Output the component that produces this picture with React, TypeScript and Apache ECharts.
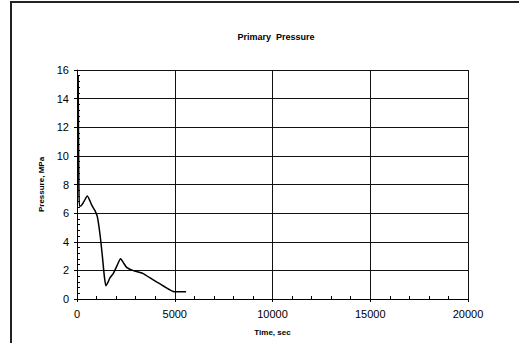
import React, { useEffect, useRef } from "react";
import * as echarts from "echarts";

const timeSec = [60, 75, 95, 125, 190, 350, 530, 750, 920, 1040, 1180, 1300, 1400, 1480, 1600, 1690, 1860, 2060, 2230, 2370, 2540, 2880, 3360, 3900, 4420, 4980, 5580];
const pressureMPa = [15.6, 12.0, 8.0, 6.5, 6.5, 6.8, 7.2, 6.57, 6.17, 5.75, 4.47, 2.96, 1.56, 0.93, 1.21, 1.49, 1.79, 2.37, 2.82, 2.54, 2.21, 1.98, 1.79, 1.33, 0.91, 0.51, 0.5];

const chartTitle = "Primary  Pressure";
const xTitle = "Time, sec";
const yTitle = "Pressure, MPa";

export default function App() {
  const ref = useRef<HTMLDivElement>(null);
  useEffect(() => {
    if (!ref.current) return;
    const chart = echarts.init(ref.current, null, { renderer: "svg" });
    const font = "Liberation Sans, Arial, sans-serif";
    chart.setOption({
      animation: false,
      backgroundColor: "#fff",
      title: {
        text: chartTitle,
        left: 271,
        top: 27,
        textAlign: "center",
        textStyle: { fontFamily: font, fontSize: 9, fontWeight: "bold", color: "#000" },
      },
      grid: { left: 77, top: 70, right: 51, bottom: 44 },
      xAxis: {
        type: "value",
        min: 0,
        max: 20000,
        interval: 5000,
        name: xTitle,
        nameLocation: "middle",
        nameGap: 29,
        nameTextStyle: { fontFamily: font, fontSize: 8, fontWeight: "bold", color: "#000" },
        axisLine: { show: true, onZero: false, lineStyle: { color: "#000", width: 1 } },
        axisTick: { show: true, inside: false, length: 3, lineStyle: { color: "#000" } },
        minorTick: { show: true, splitNumber: 5, length: -3, lineStyle: { color: "#000" } },
        axisLabel: { fontFamily: font, fontSize: 11, color: "#000", margin: 9, formatter: (v: number) => String(v) },
        splitLine: { show: true, lineStyle: { color: "#111", width: 1 } },
      },
      yAxis: {
        type: "value",
        min: 0,
        max: 16,
        interval: 2,
        name: yTitle,
        nameLocation: "middle",
        nameGap: 27,
        nameRotate: 90,
        nameTextStyle: { fontFamily: font, fontSize: 8, fontWeight: "bold", color: "#000" },
        axisLine: { show: true, onZero: false, lineStyle: { color: "#000", width: 1 } },
        axisTick: { show: true, inside: false, length: 3, lineStyle: { color: "#000" } },
        minorTick: { show: true, splitNumber: 5, length: -3, lineStyle: { color: "#000" } },
        axisLabel: { fontFamily: font, fontSize: 11, color: "#000", margin: 8 },
        splitLine: { show: true, lineStyle: { color: "#111", width: 1 } },
      },
      graphic: [
        { type: "line", shape: { x1: 11, y1: 2, x2: 11, y2: 343 }, style: { stroke: "#222", lineWidth: 2 } },
        { type: "line", shape: { x1: 10, y1: 2, x2: 519, y2: 2 }, style: { stroke: "#222", lineWidth: 2 } },
      ],
      series: [
        {
          type: "line",
          data: timeSec.map((t, i) => [t, pressureMPa[i]]),
          showSymbol: false,
          smooth: 0.2,
          lineStyle: { color: "#000", width: 1.5 },
        },
      ],
    });
    return () => chart.dispose();
  }, []);
  return <div ref={ref} style={{ position: "fixed", left: 0, top: 0, width: 519, height: 343 }} />;
}
